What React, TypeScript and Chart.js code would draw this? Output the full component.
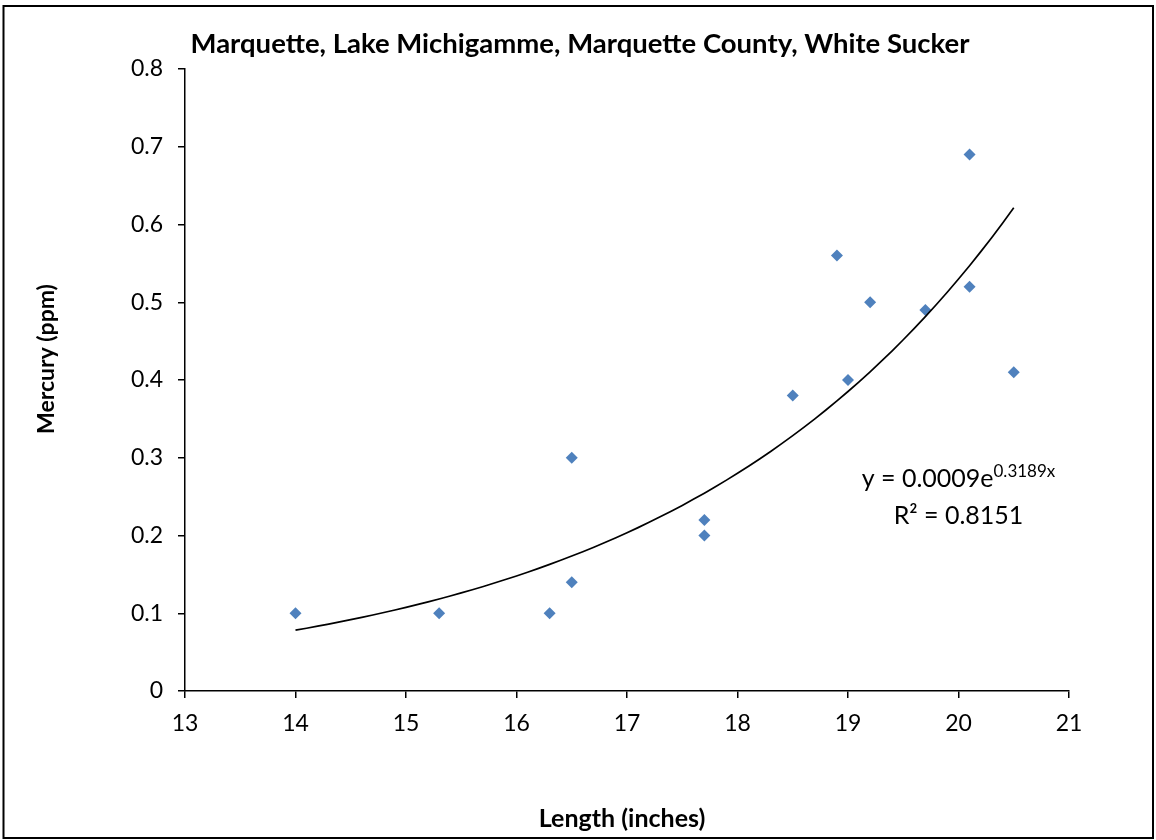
import React, { useEffect, useRef } from "react";
import { Chart, registerables } from "chart.js";

Chart.register(...registerables);

const CHART_TITLE = "Marquette, Lake Michigamme, Marquette County, White Sucker";
const X_TITLE = "Length (inches)";
const Y_TITLE = "Mercury (ppm)";

const LENGTHS = [14, 15.3, 16.3, 16.5, 16.5, 17.7, 17.7, 18.5, 18.9, 19.0, 19.2, 19.7, 20.1, 20.1, 20.5];
const MERCURY = [0.1, 0.1, 0.1, 0.14, 0.3, 0.2, 0.22, 0.38, 0.56, 0.4, 0.5, 0.49, 0.69, 0.52, 0.41];

// Exponential trendline y = A * e^(B x), as reported on the chart
const TREND_A = 0.0009;
const TREND_B = 0.3189;
const TREND_R2 = "0.8151";
const TREND_X_START = 14;
const TREND_X_END = 20.5;
const TREND_STEPS = 65;

const X_MIN = 13;
const X_MAX = 21;
const Y_MIN = 0;
const Y_MAX = 0.8;

const EQ_LABEL_X = 20.0;
const EQ_LABEL_Y = 0.262;

const FONT = "Lato, 'Open Sans', sans-serif";

export default function App() {
  const ref = useRef<HTMLCanvasElement | null>(null);

  useEffect(() => {
    document.body.style.margin = "0";
    document.body.style.overflow = "hidden";
    const canvas = ref.current;
    if (!canvas) return;

    const trend: { x: number; y: number }[] = [];
    for (let i = 0; i <= TREND_STEPS; i++) {
      const x = TREND_X_START + ((TREND_X_END - TREND_X_START) * i) / TREND_STEPS;
      trend.push({ x, y: TREND_A * Math.exp(TREND_B * x) });
    }
    const points = LENGTHS.map((x, i) => ({ x, y: MERCURY[i] }));

    const decor = {
      id: "decor",
      afterDraw(chart: any) {
        const { ctx } = chart;
        const xs = chart.scales.x;
        const ys = chart.scales.y;
        ctx.save();
        // frame
        ctx.strokeStyle = "#000";
        ctx.lineWidth = 2;
        ctx.strokeRect(3.5, 6, 1149.5, 832);

        ctx.fillStyle = "#000";
        ctx.textAlign = "center";
        ctx.textBaseline = "middle";

        // chart title
        ctx.font = `bold 27.5px ${FONT}`;
        ctx.fillText(CHART_TITLE, 580, 44);

        // x axis title
        ctx.font = `bold 25px ${FONT}`;
        ctx.fillText(X_TITLE, 622, 819);

        // y axis title
        ctx.save();
        ctx.translate(47, 359);
        ctx.rotate(-Math.PI / 2);
        ctx.font = `bold 23px ${FONT}`;
        ctx.fillText(Y_TITLE, 0, 0);
        ctx.restore();

        // equation label
        const cx = xs.getPixelForValue(EQ_LABEL_X);
        const by = ys.getPixelForValue(EQ_LABEL_Y);
        ctx.textBaseline = "alphabetic";
        const main = `y = ${TREND_A}e`;
        const sup = `${TREND_B}x`;
        ctx.font = `25px ${FONT}`;
        const wMain = ctx.measureText(main).width;
        ctx.font = `17px ${FONT}`;
        const wSup = ctx.measureText(sup).width;
        const start = cx - (wMain + wSup) / 2;
        ctx.textAlign = "left";
        ctx.font = `25px ${FONT}`;
        ctx.fillText(main, start, by);
        ctx.font = `17px ${FONT}`;
        ctx.fillText(sup, start + wMain, by - 10);
        ctx.font = `25px ${FONT}`;
        ctx.textAlign = "center";
        ctx.fillText(`R\u00B2 = ${TREND_R2}`, cx, by + 37);
        ctx.restore();
      },
    };

    const chart = new Chart(canvas, {
      type: "scatter",
      data: {
        datasets: [
          {
            label: "Trend",
            data: trend,
            showLine: true,
            borderColor: "#000",
            borderWidth: 1.7,
            pointRadius: 0,
            fill: false,
            tension: 0,
          },
          {
            label: "Mercury",
            data: points,
            pointStyle: "rectRot",
            pointRadius: 6,
            backgroundColor: "#4F81BD",
            borderColor: "#4F81BD",
            borderWidth: 0,
          },
        ],
      },
      options: {
        animation: false,
        responsive: false,
        devicePixelRatio: 1,
        layout: { padding: { left: 0, right: 87, top: 69, bottom: 0 } },
        plugins: {
          legend: { display: false },
          tooltip: { enabled: false },
          title: { display: false },
        },
        scales: {
          x: {
            type: "linear",
            min: X_MIN,
            max: X_MAX,
            afterFit: (s: any) => {
              s.height = 149;
            },
            ticks: {
              stepSize: 1,
              color: "#000",
              font: { family: FONT, size: 23 },
              padding: 12,
              maxRotation: 0,
            },
            grid: {
              drawOnChartArea: false,
              drawTicks: true,
              tickLength: 7,
              color: "#000",
              lineWidth: 1.5,
            },
            border: { display: true, color: "#000", width: 1.5 },
          },
          y: {
            type: "linear",
            min: Y_MIN,
            max: Y_MAX,
            afterFit: (s: any) => {
              s.width = 185;
            },
            ticks: {
              stepSize: 0.1,
              color: "#000",
              font: { family: FONT, size: 23 },
              padding: 15,
              callback: (v: any) => (Number(v) === 0 ? "0" : Number(v).toFixed(1)),
            },
            grid: {
              drawOnChartArea: false,
              drawTicks: true,
              tickLength: 7,
              color: "#000",
              lineWidth: 1.5,
            },
            border: { display: true, color: "#000", width: 1.5 },
          },
        },
      },
      plugins: [decor],
    });

    return () => chart.destroy();
  }, []);

  return (
    <div style={{ position: "absolute", left: 0, top: 0, width: 1156, height: 840, background: "#fff" }}>
      <canvas ref={ref} width={1156} height={840} style={{ width: 1156, height: 840, display: "block" }} />
    </div>
  );
}
